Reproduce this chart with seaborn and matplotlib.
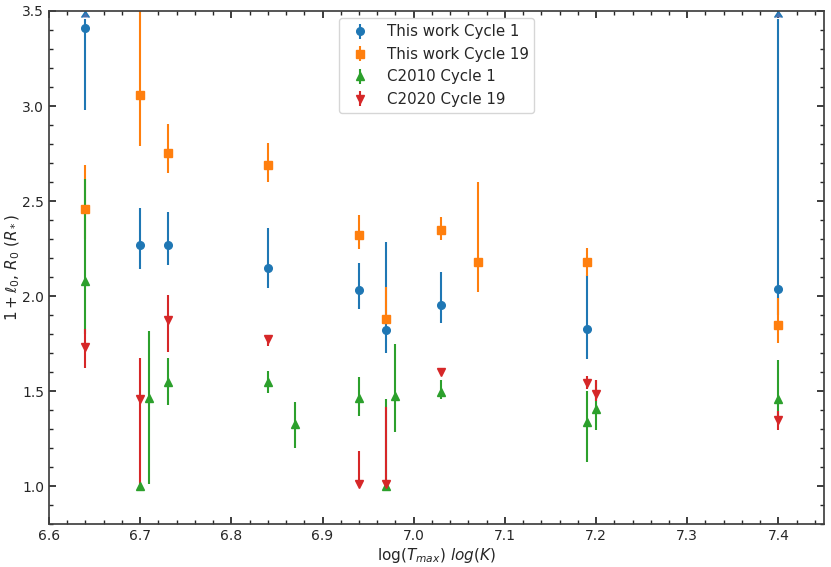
import numpy as np
import matplotlib
matplotlib.use("Agg")
import matplotlib.pyplot as plt
from matplotlib.ticker import MultipleLocator
import seaborn as sns

# This work, Cycle 1
x_c1 = [6.64, 6.70, 6.73, 6.84, 6.94, 6.97, 7.03, 7.19, 7.40]
y_c1 = [3.41, 2.27, 2.27, 2.15, 2.03, 1.82, 1.955, 1.825, 2.035]
lo_c1 = [2.98, 2.14, 2.165, 2.04, 1.93, 1.70, 1.86, 1.67, 1.90]
hi_c1 = [3.46, 2.465, 2.44, 2.36, 2.175, 2.285, 2.125, 2.11, 3.46]
# points whose upper bound runs off the top (drawn with an arrow)
x_c1_lim = [6.64, 7.40]
y_c1_lim = [3.47, 3.47]

# This work, Cycle 19
x_c19 = [6.64, 6.70, 6.73, 6.84, 6.94, 6.97, 7.03, 7.07, 7.19, 7.40]
y_c19 = [2.46, 3.06, 2.755, 2.69, 2.32, 1.88, 2.35, 2.18, 2.18, 1.85]
lo_c19 = [2.30, 2.79, 2.65, 2.60, 2.25, 1.86, 2.295, 2.02, 2.105, 1.755]
hi_c19 = [2.69, 3.60, 2.905, 2.805, 2.425, 2.05, 2.415, 2.60, 2.255, 1.99]

# C2010, Cycle 1
x_g = [6.64, 6.70, 6.71, 6.73, 6.84, 6.87, 6.94, 6.97, 6.98, 7.03, 7.19, 7.20, 7.40]
y_g = [2.08, 1.00, 1.465, 1.545, 1.546, 1.326, 1.465, 1.00, 1.474, 1.495, 1.335, 1.405, 1.46]
lo_g = [1.80, 1.00, 1.01, 1.426, 1.488, 1.20, 1.368, 1.00, 1.286, 1.456, 1.128, 1.296, 1.37]
hi_g = [2.615, 1.00, 1.816, 1.675, 1.607, 1.444, 1.575, 1.456, 1.747, 1.558, 1.50, 1.56, 1.664]

# C2020, Cycle 19
x_r = [6.64, 6.70, 6.73, 6.84, 6.94, 6.97, 7.03, 7.19, 7.20, 7.40]
y_r = [1.733, 1.46, 1.874, 1.772, 1.01, 1.01, 1.598, 1.543, 1.485, 1.346]
lo_r = [1.62, 1.01, 1.707, 1.739, 1.01, 1.01, 1.585, 1.51, 1.445, 1.293]
hi_r = [1.825, 1.675, 2.005, 1.795, 1.184, 1.417, 1.61, 1.58, 1.56, 1.394]


def errs(y, lo, hi):
    y = np.array(y)
    return [y - np.array(lo), np.array(hi) - y]


sns.set_theme(style="ticks")
pal = sns.color_palette("tab10")

fig, ax = plt.subplots(figsize=(8.31, 5.67), dpi=100)
fig.subplots_adjust(left=0.059, right=0.9916, top=0.9806, bottom=0.0758)

kw = dict(linestyle="none", markersize=5.5, elinewidth=1.5, capsize=0)
ax.errorbar(x_c1, y_c1, yerr=errs(y_c1, lo_c1, hi_c1), fmt="o", color=pal[0],
            label="This work Cycle 1", **kw)
ax.errorbar(x_c1_lim, y_c1_lim, yerr=[[0, 0], [0, 0]], lolims=True, fmt="none",
            ecolor=pal[0], elinewidth=1.0, markersize=3)
ax.errorbar(x_c19, y_c19, yerr=errs(y_c19, lo_c19, hi_c19), fmt="s", color=pal[1],
            label="This work Cycle 19", **kw)
ax.errorbar(x_g, y_g, yerr=errs(y_g, lo_g, hi_g), fmt="^", color=pal[2],
            label="C2010 Cycle 1", **kw)
ax.errorbar(x_r, y_r, yerr=errs(y_r, lo_r, hi_r), fmt="v", color=pal[3],
            label="C2020 Cycle 19", **kw)

ax.set_xlim(6.6, 7.45)
ax.set_ylim(0.8, 3.5)
ax.xaxis.set_major_locator(MultipleLocator(0.1))
ax.xaxis.set_minor_locator(MultipleLocator(0.02))
ax.yaxis.set_major_locator(MultipleLocator(0.5))
ax.yaxis.set_minor_locator(MultipleLocator(0.1))
ax.tick_params(which="both", direction="in", top=True, right=True, labelsize=10)
ax.tick_params(which="major", length=5)
ax.tick_params(which="minor", length=3)
for s in ax.spines.values():
    s.set_color("0.25")

ax.set_xlabel(r"log($T_{max}$) $log(K)$", fontsize=11, labelpad=2)
ax.set_ylabel(r"$1+\ell_0$, $R_0$ $(R_*)$", fontsize=11, labelpad=0)
ax.legend(loc="upper center", fontsize=10.8, frameon=True)

plt.savefig("out.png", dpi=100)
plt.close()
